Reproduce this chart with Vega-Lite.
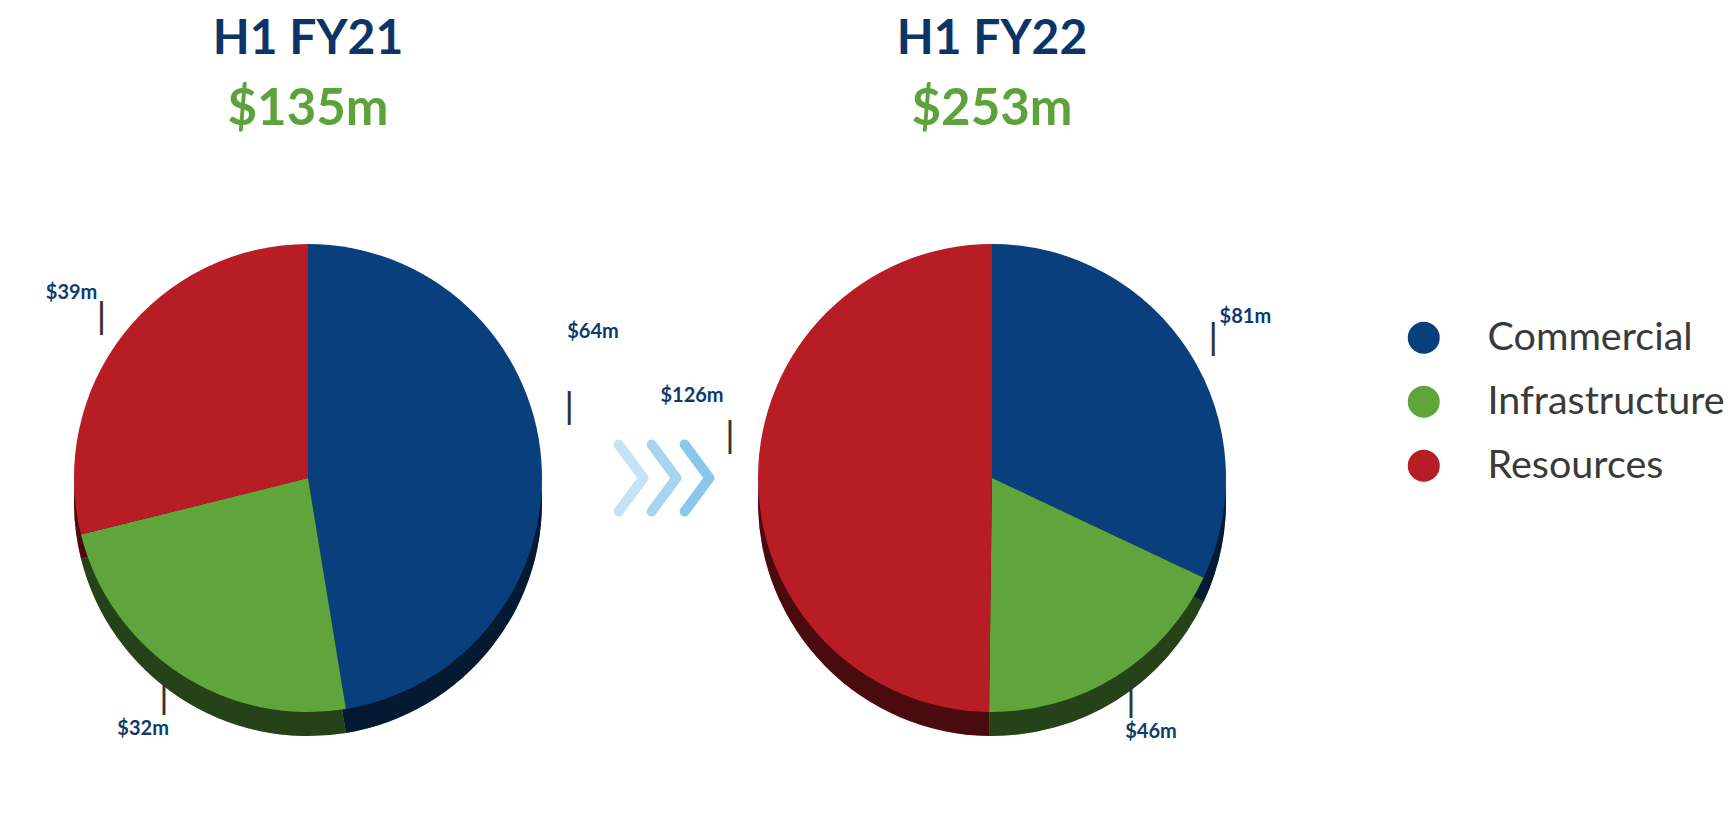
{
  "$schema": "https://vega.github.io/schema/vega-lite/v6.json",
  "background": "white",
  "padding": {"left": 28, "top": 16, "right": 0, "bottom": 0},
  "bounds": "flush",
  "spacing": 10,
  "datasets": {
    "pies": [
      {"period": "H1 FY21", "segment": "Commercial", "value": 64, "label": "$64m"},
      {"period": "H1 FY21", "segment": "Infrastructure", "value": 32, "label": "$32m"},
      {"period": "H1 FY21", "segment": "Resources", "value": 39, "label": "$39m"},
      {"period": "H1 FY22", "segment": "Commercial", "value": 81, "label": "$81m"},
      {"period": "H1 FY22", "segment": "Infrastructure", "value": 46, "label": "$46m"},
      {"period": "H1 FY22", "segment": "Resources", "value": 126, "label": "$126m"}
    ],
    "chev": [{"step": 1}, {"step": 2}, {"step": 3}]
  },
  "hconcat": [
    {
      "width": 560, "height": 640,
      "title": {"text": "H1 FY21", "subtitle": "$135m"},
      "data": {"name": "pies"},
      "transform": [{"filter": "datum.period === 'H1 FY21'"}],
      "encoding": {
        "theta": {"field": "value", "type": "quantitative", "stack": "normalize"},
        "order": {"field": "segment", "type": "ordinal"},
        "color": {"field": "segment", "type": "nominal",
          "scale": {"domain": ["Commercial", "Infrastructure", "Resources"], "range": ["#0A3F7D", "#5FA53C", "#B81C24"]},
          "legend": {"orient": "none", "legendX": 1376, "legendY": 160, "title": null}}
      },
      "layer": [
        {"mark": {"type": "arc", "radius": 234, "yOffset": 24}},
        {"mark": {"type": "arc", "radius": 234, "yOffset": 24, "opacity": 0.6}, "encoding": {"color": {"value": "black"}}},
        {"mark": {"type": "arc", "radius": 234}},
        {"mark": {"type": "text", "radius": 262, "font": "DejaVu Sans", "fontSize": 34},
          "encoding": {"text": {"condition": {"test": "datum.segment === 'Commercial'", "value": ""}, "value": "|"}, "color": {"value": "#333333"}}},
        {"mark": {"type": "text", "radius": 262, "font": "DejaVu Sans", "fontSize": 34, "dy": -50},
          "encoding": {"text": {"condition": {"test": "datum.segment === 'Commercial'", "value": "|"}, "value": ""}, "color": {"value": "#333333"}}},
        {"mark": {"type": "text", "radius": 300, "font": "Lato", "fontSize": 20, "fontWeight": "bold"},
          "encoding": {"text": {"condition": {"test": "datum.segment === 'Commercial'", "value": ""}, "field": "label"}, "color": {"value": "#0D3B6E"}}},
        {"mark": {"type": "text", "radius": 300, "font": "Lato", "fontSize": 20, "fontWeight": "bold", "dy": -122, "dx": -14},
          "encoding": {"text": {"condition": {"test": "datum.segment !== 'Commercial'", "value": ""}, "field": "label"}, "color": {"value": "#0D3B6E"}}}
      ]
    },
    {
      "width": 104, "height": 640,
      "data": {"name": "chev"},
      "mark": {"type": "point", "shape": "M-0.37,-1L0.37,0L-0.37,1", "filled": false, "size": 4500, "strokeWidth": 10, "strokeCap": "round", "strokeJoin": "round", "color": "#5DB3E3"},
      "encoding": {
        "x": {"field": "step", "type": "quantitative", "scale": {"domain": [0, 3.15]}, "axis": null},
        "opacity": {"field": "step", "type": "quantitative", "scale": {"domain": [1, 3], "range": [0.36, 0.72]}, "legend": null}
      }
    },
    {
      "width": 560, "height": 640,
      "title": {"text": "H1 FY22", "subtitle": "$253m"},
      "data": {"name": "pies"},
      "transform": [{"filter": "datum.period === 'H1 FY22'"}],
      "encoding": {
        "theta": {"field": "value", "type": "quantitative", "stack": "normalize"},
        "order": {"field": "segment", "type": "ordinal"},
        "color": {"field": "segment", "type": "nominal",
          "scale": {"domain": ["Commercial", "Infrastructure", "Resources"], "range": ["#0A3F7D", "#5FA53C", "#B81C24"]},
          "legend": {"orient": "none", "legendX": 1376, "legendY": 160, "title": null}}
      },
      "layer": [
        {"mark": {"type": "arc", "radius": 234, "yOffset": 24}},
        {"mark": {"type": "arc", "radius": 234, "yOffset": 24, "opacity": 0.6}, "encoding": {"color": {"value": "black"}}},
        {"mark": {"type": "arc", "radius": 234}},
        {"mark": {"type": "text", "radius": 262, "font": "DejaVu Sans", "fontSize": 34},
          "encoding": {"text": {"condition": {"test": "datum.segment === 'Resources'", "value": ""}, "value": "|"}, "color": {"value": "#333333"}}},
        {"mark": {"type": "text", "radius": 262, "font": "DejaVu Sans", "fontSize": 34, "dy": -40},
          "encoding": {"text": {"condition": {"test": "datum.segment === 'Resources'", "value": "|"}, "value": ""}, "color": {"value": "#333333"}}},
        {"mark": {"type": "text", "radius": 300, "font": "Lato", "fontSize": 20, "fontWeight": "bold"},
          "encoding": {"text": {"condition": {"test": "datum.segment === 'Resources'", "value": ""}, "field": "label"}, "color": {"value": "#0D3B6E"}}},
        {"mark": {"type": "text", "radius": 300, "font": "Lato", "fontSize": 20, "fontWeight": "bold", "dy": -80},
          "encoding": {"text": {"condition": {"test": "datum.segment !== 'Resources'", "value": ""}, "field": "label"}, "color": {"value": "#0D3B6E"}}}
      ]
    }
  ],
  "resolve": {"scale": {"theta": "independent"}},
  "config": {
    "view": {"stroke": null},
    "title": {"font": "Lato", "fontSize": 48, "fontWeight": "bold", "color": "#0D3466",
      "subtitleFont": "Lato", "subtitleFontSize": 51, "subtitleFontWeight": "bold", "subtitleColor": "#5EA23B",
      "anchor": "middle", "frame": "group", "offset": 23, "subtitlePadding": 21},
    "legend": {"symbolType": "circle", "symbolSize": 1024, "symbolStrokeWidth": 0, "symbolOpacity": 1,
      "labelFont": "Lato", "labelFontSize": 39.5, "labelColor": "#3A3A3A", "labelOffset": 44, "rowPadding": 23, "labelLimit": 400}
  }
}
